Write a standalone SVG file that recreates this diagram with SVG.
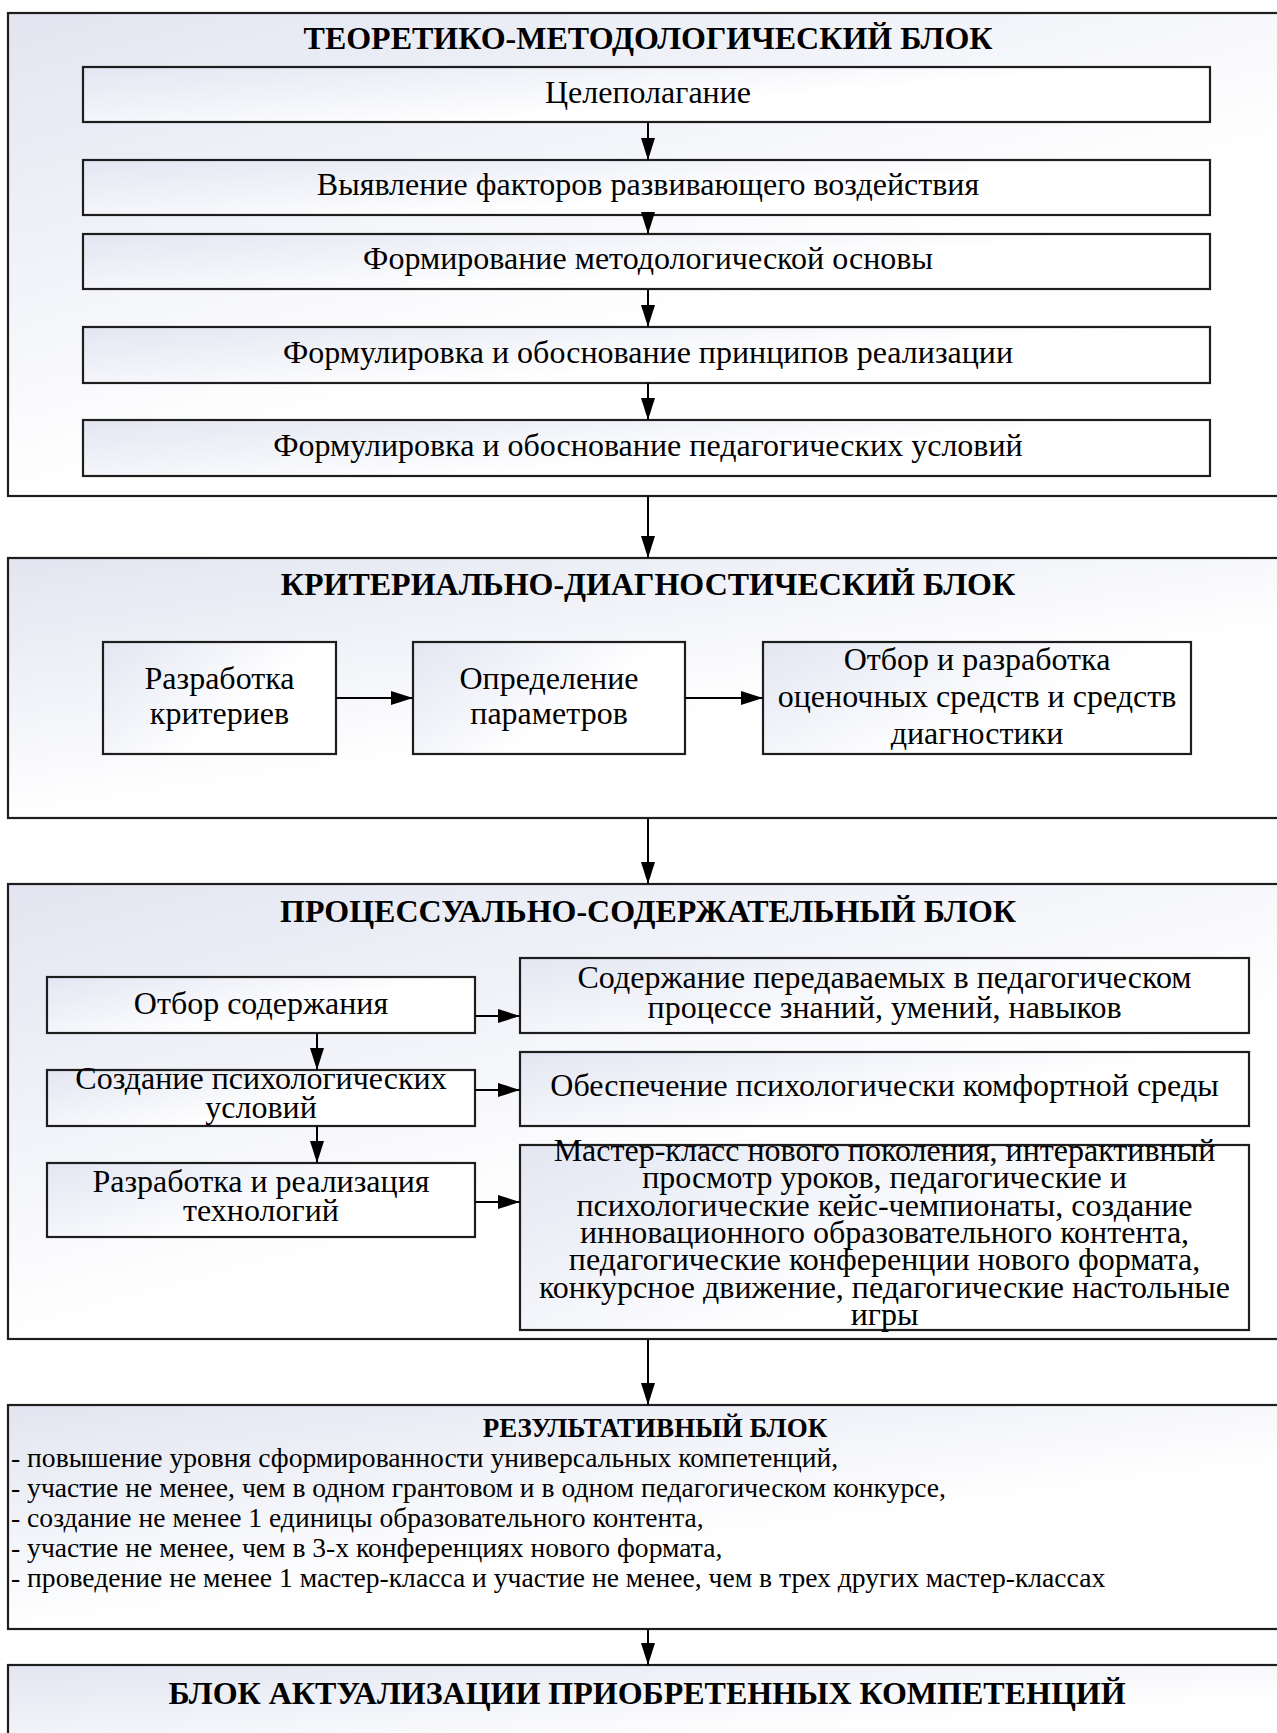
<svg xmlns="http://www.w3.org/2000/svg" width="1277" height="1733" viewBox="0 0 1277 1733">
<defs>
<linearGradient id="gOuter" x1="0" y1="0" x2="0.75" y2="1">
<stop offset="0" stop-color="#e2e5f1"/>
<stop offset="0.65" stop-color="#ffffff"/>
<stop offset="1" stop-color="#ffffff"/>
</linearGradient>
<linearGradient id="gInner" x1="0" y1="0" x2="1" y2="0.6">
<stop offset="0" stop-color="#e3e6f2"/>
<stop offset="0.7" stop-color="#ffffff"/>
<stop offset="1" stop-color="#ffffff"/>
</linearGradient>
<marker id="arr" markerUnits="userSpaceOnUse" markerWidth="23" markerHeight="16" refX="22" refY="8" orient="auto">
<path d="M0,1 L22,8 L0,15 z" fill="#000"/>
</marker>
<style>
.outer{fill:url(#gOuter);stroke:#1e1e1e;stroke-width:2.2}
.box{fill:url(#gInner);stroke:#1e1e1e;stroke-width:2.2}
.t{font-family:"Liberation Serif","Times New Roman",serif;font-size:32px;fill:#000;text-anchor:middle}
.h{font-family:"Liberation Serif","Times New Roman",serif;font-size:32px;font-weight:bold;fill:#000;text-anchor:middle}
.hs{font-family:"Liberation Serif","Times New Roman",serif;font-size:27px;font-weight:bold;fill:#000;text-anchor:middle}
.l{font-family:"Liberation Serif","Times New Roman",serif;font-size:27.6px;fill:#000}
.c{stroke:#000;stroke-width:2;fill:none;marker-end:url(#arr)}
</style>
</defs>
<rect width="1277" height="1733" fill="#ffffff"/>

<g id="block1">
<rect class="outer" x="8" y="13" width="1290" height="483"/>
<text class="h" x="648" y="49">ТЕОРЕТИКО-МЕТОДОЛОГИЧЕСКИЙ БЛОК</text>
</g>
<g id="b1n1"><rect class="box" x="83" y="67" width="1127" height="55"/><text class="t" x="648" y="103">Целеполагание</text></g>
<g id="b1n2"><rect class="box" x="83" y="160" width="1127" height="55"/><text class="t" x="648" y="195">Выявление факторов развивающего воздействия</text></g>
<g id="b1n3"><rect class="box" x="83" y="234" width="1127" height="55"/><text class="t" x="648" y="269">Формирование методологической основы</text></g>
<g id="b1n4"><rect class="box" x="83" y="327" width="1127" height="56"/><text class="t" x="648" y="363">Формулировка и обоснование принципов реализации</text></g>
<g id="b1n5"><rect class="box" x="83" y="420" width="1127" height="56"/><text class="t" x="648" y="456">Формулировка и обоснование педагогических условий</text></g>

<g id="block2">
<rect class="outer" x="8" y="558" width="1290" height="260"/>
<text class="h" x="648" y="595">КРИТЕРИАЛЬНО-ДИАГНОСТИЧЕСКИЙ БЛОК</text>
</g>
<g id="b2n1"><rect class="box" x="103" y="642" width="233" height="112"/><text class="t" x="219.5" y="689">Разработка</text><text class="t" x="219.5" y="724">критериев</text></g>
<g id="b2n2"><rect class="box" x="413" y="642" width="272" height="112"/><text class="t" x="549" y="689">Определение</text><text class="t" x="549" y="724">параметров</text></g>
<g id="b2n3"><rect class="box" x="763" y="642" width="428" height="112"/><text class="t" x="977" y="670">Отбор и разработка</text><text class="t" x="977" y="707">оценочных средств и средств</text><text class="t" x="977" y="744">диагностики</text></g>

<g id="block3">
<rect class="outer" x="8" y="884" width="1290" height="455"/>
<text class="h" x="648" y="922">ПРОЦЕССУАЛЬНО-СОДЕРЖАТЕЛЬНЫЙ БЛОК</text>
</g>
<g id="b3l1"><rect class="box" x="47" y="977" width="428" height="56"/><text class="t" x="261" y="1014">Отбор содержания</text></g>
<g id="b3l2"><rect class="box" x="47" y="1070" width="428" height="56"/><text class="t" x="261" y="1089">Создание психологических</text><text class="t" x="261" y="1118">условий</text></g>
<g id="b3l3"><rect class="box" x="47" y="1163" width="428" height="74"/><text class="t" x="261" y="1192">Разработка и реализация</text><text class="t" x="261" y="1221">технологий</text></g>
<g id="b3r1"><rect class="box" x="520" y="958" width="729" height="75"/><text class="t" x="884.5" y="988">Содержание передаваемых в педагогическом</text><text class="t" x="884.5" y="1018">процессе знаний, умений, навыков</text></g>
<g id="b3r2"><rect class="box" x="520" y="1052" width="729" height="74"/><text class="t" x="884.5" y="1096">Обеспечение психологически комфортной среды</text></g>
<g id="b3r3"><rect class="box" x="520" y="1145" width="729" height="185"/>
<text class="t" x="884.5" y="1161">Мастер-класс нового поколения, интерактивный</text>
<text class="t" x="884.5" y="1188">просмотр уроков, педагогические и</text>
<text class="t" x="884.5" y="1215.5">психологические кейс-чемпионаты, создание</text>
<text class="t" x="884.5" y="1243">инновационного образовательного контента,</text>
<text class="t" x="884.5" y="1270">педагогические конференции нового формата,</text>
<text class="t" x="884.5" y="1297.5">конкурсное движение, педагогические настольные</text>
<text class="t" x="884.5" y="1325">игры</text>
</g>

<g id="block4">
<rect class="outer" x="8" y="1405" width="1290" height="224"/>
<text class="hs" x="655" y="1437">РЕЗУЛЬТАТИВНЫЙ БЛОК</text>
<text class="l" x="11" y="1467">- повышение уровня сформированности универсальных компетенций,</text>
<text class="l" x="11" y="1497">- участие не менее, чем в одном грантовом и в одном педагогическом конкурсе,</text>
<text class="l" x="11" y="1527">- создание не менее 1 единицы образовательного контента,</text>
<text class="l" x="11" y="1557">- участие не менее, чем в 3-х конференциях нового формата,</text>
<text class="l" x="11" y="1587">- проведение не менее 1 мастер-класса и участие не менее, чем в трех других мастер-классах</text>
</g>

<g id="block5">
<rect class="outer" x="8" y="1665" width="1290" height="120"/>
<text class="h" x="647" y="1704">БЛОК АКТУАЛИЗАЦИИ ПРИОБРЕТЕННЫХ КОМПЕТЕНЦИЙ</text>
</g>

<g id="connectors">
<path class="c" d="M648,122 V160"/>
<path class="c" d="M648,215 V234"/>
<path class="c" d="M648,289 V327"/>
<path class="c" d="M648,383 V420"/>
<path class="c" d="M648,496 V558"/>
<path class="c" d="M336,698 H413"/>
<path class="c" d="M685,698 H763"/>
<path class="c" d="M648,818 V884"/>
<path class="c" d="M317,1033 V1070"/>
<path class="c" d="M317,1126 V1163"/>
<path class="c" d="M475,1016 H520"/>
<path class="c" d="M475,1090 H520"/>
<path class="c" d="M475,1202 H520"/>
<path class="c" d="M648,1339 V1405"/>
<path class="c" d="M648,1629 V1665"/>
</g>
</svg>
